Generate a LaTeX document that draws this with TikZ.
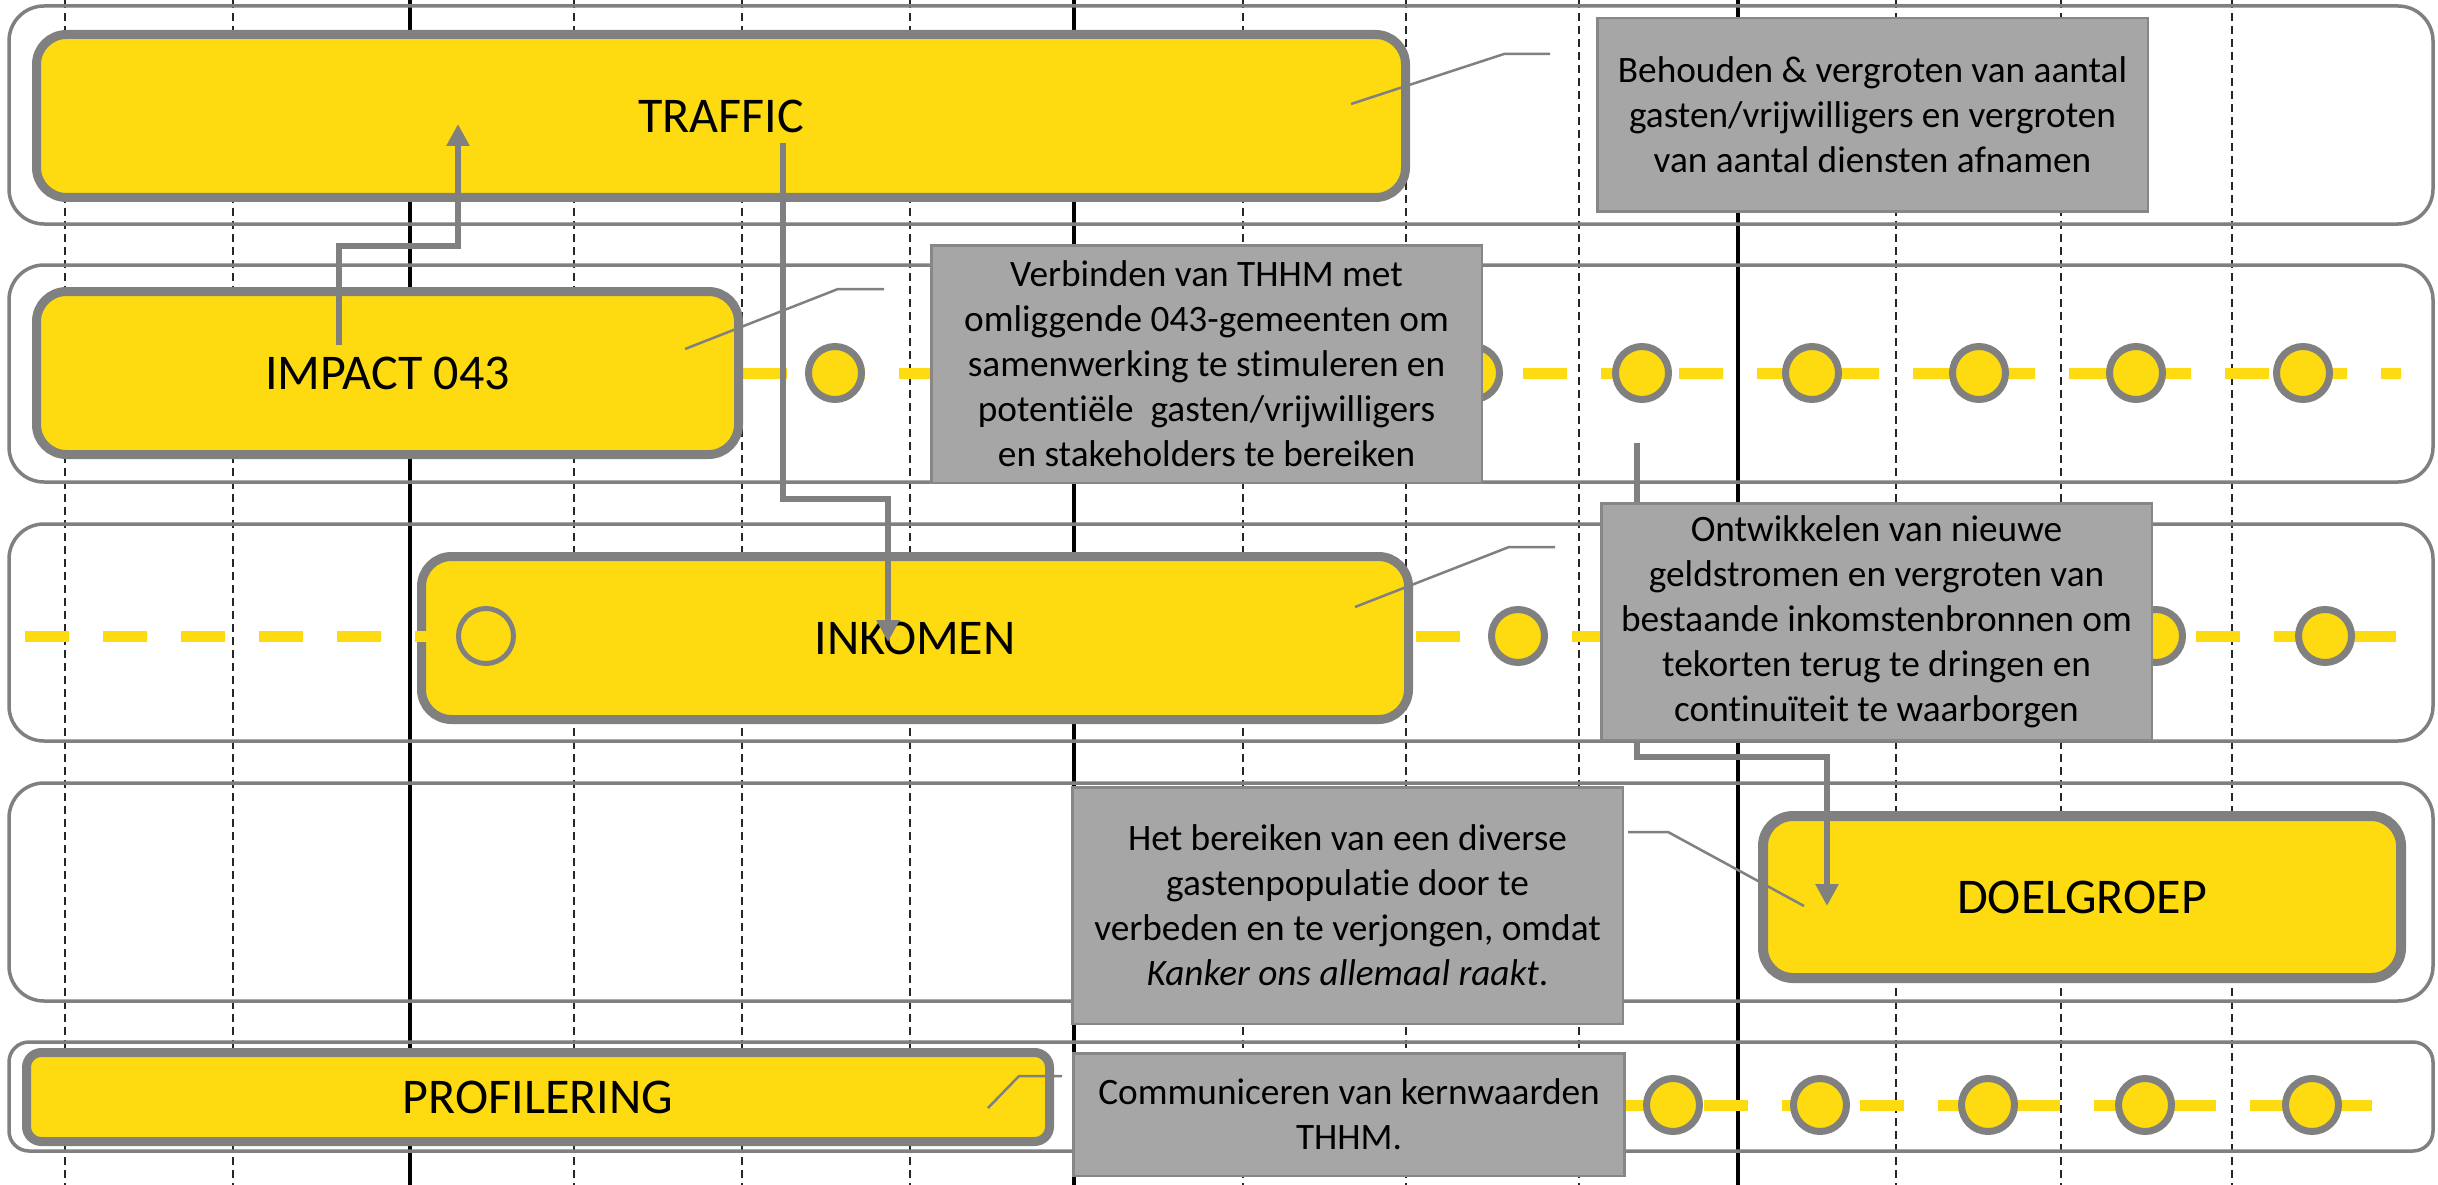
\documentclass[tikz,border=0pt]{standalone}
\usepackage{fontspec}
\setmainfont[Ligatures=NoCommon]{Carlito}
\usetikzlibrary{arrows.meta}
\definecolor{ylw}{RGB}{254,218,17}
\definecolor{gbord}{RGB}{128,128,128}
\definecolor{gfill}{RGB}{166,166,166}
\definecolor{gline}{RGB}{135,135,135}
\begin{document}
\begin{tikzpicture}[x=1pt,y=-1pt,
  lanebox/.style={draw=gbord,line width=3.5pt,rounded corners=35pt},
  ybox/.style={draw=gbord,fill=ylw,line width=9pt,rounded corners=30pt,inner sep=0pt,outer sep=0pt,font=\fontsize{50}{58}\selectfont},
  gbox/.style={draw=gline,fill=gfill,line width=2.5pt,inner sep=0pt,outer sep=0pt,align=center,font=\fontsize{37.3}{45}\selectfont},
  gridd/.style={line width=1.5pt,dash pattern=on 8pt off 5pt,black!85},
  grids/.style={line width=3.5pt,black},
  ydash/.style={ylw,line width=11pt,dash pattern=on 44pt off 34pt},
  mstone/.style={circle,draw=gbord,fill=ylw,line width=7pt,minimum size=53pt,inner sep=0pt},
  mstonethin/.style={circle,draw=gbord,fill=ylw,line width=5pt,minimum size=55pt,inner sep=0pt},
  conn/.style={draw=gbord,line width=6pt},
  arr/.style={conn,-{Triangle[length=22pt,width=22pt]}},
  cline/.style={draw=gbord,line width=2.5pt},
]
\useasboundingbox (0,0) rectangle (2438,1185);
\fill[white] (0,0) rectangle (2438,1185);

% grid
\foreach \x in {65,233,574,742,910,1243,1406,1579,1896,2061,2232}
  \draw[gridd] (\x,0) -- (\x,1185);
\foreach \x in {410,1074,1738}
  \draw[grids] (\x,0) -- (\x,1185);

% lanes
\draw[lanebox] (9,6) rectangle (2433,224);
\draw[lanebox] (9,265) rectangle (2433,482);
\draw[lanebox] (9,524) rectangle (2433,741);
\draw[lanebox] (9,783) rectangle (2433,1001);
\draw[lanebox,rounded corners=20pt] (9,1042) rectangle (2433,1151);

% timelines
\draw[ydash] (743,373) -- (2401,373);
\draw[ydash] (1416,636) -- (2401,636);
\draw[ydash] (1626,1105) -- (2374,1105);

\foreach \x/\n in {835/a,1473/b,1642/c,1812/d,1979/e,2136/f,2303/g}
  \node[mstone] (m2\n) at (\x,373) {};
\foreach \x/\n in {1518/a,2156/b,2325/c}
  \node[mstone] (m3\n) at (\x,636) {};
\foreach \x/\n in {1673/a,1820/b,1988/c,2145/d,2312/e}
  \node[mstone] (m5\n) at (\x,1105) {};

% yellow boxes
\node[ybox,minimum width=1369pt,minimum height=163pt] (traffic) at (721,116) {TRAFFIC};
\node[ybox,minimum width=702pt,minimum height=163pt] (impact) at (387.5,373) {IMPACT 043};
\node[ybox,minimum width=987pt,minimum height=163pt] (inkomen) at (915,638) {INKOMEN};
\node[ybox,line width=10pt,minimum width=638pt,minimum height=162pt] (doel) at (2082,897) {DOELGROEP};
\node[ybox,rounded corners=15pt,minimum width=1023pt,minimum height=89pt] (prof) at (538,1097) {PROFILERING};

% lane 3 left part over the INKOMEN border
\draw[ydash] (25,636) -- (430,636);
\node[mstonethin] (m3in) at (486,636) {};

% connectors
\coordinate (c1s) at (339,345);
\coordinate (c1e) at (458,124);
\draw[arr] (c1s) -- (339,246) -| (c1e);
\coordinate (c2s) at (783,143);
\coordinate (c2e) at (888,642);
\draw[arr] (c2s) -- (783,499) -| (c2e);
\coordinate (c3s) at (1637,443);
\coordinate (c3e) at (1827,906);
\draw[arr] (c3s) -- (1637,757) -| (c3e);

% grey boxes
\node[gbox,minimum width=550.5pt,minimum height=193.5pt] (g1) at (1872.5,115)
  {Behouden \& vergroten van aantal\\gasten/vrijwilligers en vergroten\\van aantal diensten afnamen};
\node[gbox,minimum width=550.5pt,minimum height=237.5pt] (g2) at (1206.5,364)
  {Verbinden van THHM met\\omliggende 043-gemeenten om\\samenwerking te stimuleren en\\potentiële\ \ gasten/vrijwilligers\\en stakeholders te bereiken};
\node[gbox,minimum width=550.5pt,minimum height=236.5pt] (g3) at (1876.5,621.5)
  {Ontwikkelen van nieuwe\\geldstromen en vergroten van\\bestaande inkomstenbronnen om\\tekorten terug te dringen en\\continuïteit te waarborgen};
\node[gbox,minimum width=550.5pt,minimum height=236.5pt] (g4) at (1347.5,905.5)
  {Het bereiken van een diverse\\gastenpopulatie door te\\verbeden en te verjongen, omdat\\\textit{Kanker ons allemaal raakt}.};
\node[gbox,minimum width=551pt,minimum height=122.5pt] (g5) at (1349,1114.5)
  {Communiceren van kernwaarden\\THHM.};

% callout lines
\coordinate (k1) at (1351,104);
\draw[cline] (k1) -- (1504,54) -- (1550,54);
\coordinate (k2) at (685,349);
\draw[cline] (k2) -- (838,289) -- (884,289);
\coordinate (k3) at (1355,607);
\draw[cline] (k3) -- (1509,547) -- (1555,547);
\coordinate (k4) at (1804,906);
\draw[cline] (k4) -- (1668,832) -- (1628,832);
\coordinate (k5) at (988,1108);
\draw[cline] (k5) -- (1019,1076) -- (1062,1076);
\end{tikzpicture}
\end{document}
